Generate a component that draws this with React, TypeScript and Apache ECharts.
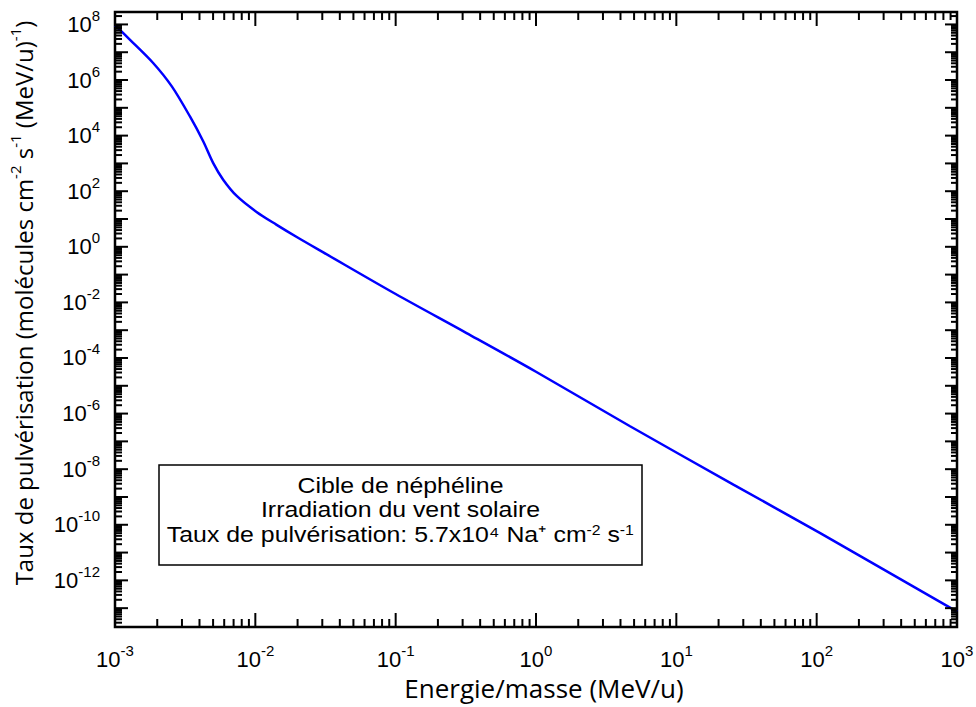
import React, { useEffect, useRef } from "react";
import * as echarts from "echarts";

// ---- data ----
const energy = [1e-3, 1.28e-3, 1.87e-3, 2.54e-3, 3.42e-3, 4.25e-3, 5.0e-3, 5.9e-3, 7.4e-3, 1.02e-2, 1.41e-2, 2.0e-2, 3.05e-2, 0.1, 0.32, 1, 4.68, 25.5, 106, 1000];
const rate = [9.5e7, 2.8e7, 4.1e6, 5.9e5, 4.9e4, 6.3e3, 1.05e3, 2.6e2, 66, 18, 6.3, 2.16, 0.63, 2.0e-2, 7.9e-4, 3.2e-5, 3.5e-7, 2.8e-9, 5.0e-11, 7.5e-14];

const xLabelExponents = [-3, -2, -1, 0, 1, 2, 3];
const yLabelExponents = [-12, -10, -8, -6, -4, -2, 0, 2, 4, 6, 8];
const xTitle = "Energie/masse (MeV/u)";
const yTitle = "Taux de pulvérisation (molécules cm{s|-2} s{s|-1} (MeV/u){s|-1})";
const boxLines = [
  "Cible de néphéline",
  "Irradiation du vent solaire",
  "Taux de pulvérisation: 5.7x10⁴ Na⁺ cm{s|-2} s{s|-1}",
];

const X_MIN = 1e-3;
const X_MAX = 1e3;
const Y_MIN = 2.1e-14;
const Y_MAX = 2.8e8;
const MULTS = [1, 2, 3, 4, 5, 6, 7, 8, 9];

const LABEL_FONT = "'Liberation Sans', Arial, sans-serif";
const TITLE_FONT = "'Open Sans', 'Noto Sans', sans-serif";

function decadeTicks(min: number, max: number) {
  const out: number[][] = [];
  const e0 = Math.floor(Math.log10(min));
  const e1 = Math.ceil(Math.log10(max));
  for (let e = e0; e <= e1; e++) {
    for (const m of MULTS) {
      const v = m * Math.pow(10, e);
      if (v >= min * 0.9999 && v <= max * 1.0001) out.push([v, m === 1 ? 1 : 0, e]);
    }
  }
  return out;
}

function expOf(v: number) {
  const l = Math.log10(v);
  const e = Math.round(l);
  return Math.abs(l - e) < 1e-6 ? e : null;
}

export default function App() {
  const ref = useRef<HTMLDivElement>(null);
  useEffect(() => {
    if (!ref.current) return;
    const chart = echarts.init(ref.current, undefined, { renderer: "svg" });

    const xTicks = decadeTicks(X_MIN, X_MAX);
    const yTicks = decadeTicks(Y_MIN, Y_MAX);

    const tickStyle = { stroke: "#000", lineWidth: 2 };

    const option: any = {
      animation: false,
      grid: {
        left: 115, top: 12, width: 842, height: 615,
        show: true, borderColor: "#000", borderWidth: 2.5,
        backgroundColor: "rgba(0,0,0,0)",
        containLabel: false, outerBoundsMode: "none",
      },
      xAxis: {
        type: "log", logBase: 10, min: X_MIN, max: X_MAX,
        axisLine: { show: false }, axisTick: { show: false },
        splitLine: { show: false }, minorTick: { show: false },
        axisLabel: {
          margin: 16,
          formatter: (v: number) => {
            const e = expOf(v);
            if (e === null || !xLabelExponents.includes(e)) return "";
            return `{b|10}{e|${e}}`;
          },
          rich: {
            b: { fontSize: 22, fontFamily: LABEL_FONT, color: "#000", lineHeight: 33 },
            e: { fontSize: 15, fontFamily: LABEL_FONT, color: "#000", lineHeight: 15, verticalAlign: "top" },
          },
        },
        name: xTitle, nameLocation: "middle", nameGap: 48,
        nameTextStyle: { fontFamily: TITLE_FONT, fontSize: 26, color: "#000", padding: [0, 0, 0, 16] },
      },
      yAxis: {
        type: "log", logBase: 10, min: Y_MIN, max: Y_MAX,
        axisLine: { show: false }, axisTick: { show: false },
        splitLine: { show: false }, minorTick: { show: false },
        axisLabel: { show: false },
        name: yTitle, nameLocation: "middle", nameGap: 76, nameRotate: 90,
        nameTextStyle: {
          fontFamily: TITLE_FONT, fontSize: 24, color: "#000", lineHeight: 32,
          padding: [0, 0, 0, 33],
          rich: { s: { fontFamily: TITLE_FONT, fontSize: 15, lineHeight: 15, verticalAlign: "top", color: "#000" } },
        },
      },
      series: [
        {
          type: "line",
          data: energy.map((e, i) => [e, rate[i]]),
          showSymbol: false,
          smooth: 0.3,
          lineStyle: { color: "#0000ff", width: 2.5 },
          z: 3,
        },
        {
          type: "custom",
          data: xTicks,
          z: 4,
          renderItem: (params: any, api: any) => {
            const v = api.value(0);
            const major = api.value(1) === 1;
            const cs = params.coordSys;
            const p = api.coord([v, 1]);
            const len = major ? 14 : 8;
            const bottom = cs.y + cs.height;
            return {
              type: "group",
              children: [
                { type: "line", shape: { x1: p[0], y1: bottom, x2: p[0], y2: bottom - len }, style: tickStyle },
                { type: "line", shape: { x1: p[0], y1: cs.y, x2: p[0], y2: cs.y + len }, style: tickStyle },
              ],
            };
          },
        },
        {
          type: "custom",
          data: yTicks.map((t) => [1, t[0], t[1], t[2]]),
          z: 4,
          renderItem: (params: any, api: any) => {
            const v = api.value(1);
            const major = api.value(2) === 1;
            const e = api.value(3);
            const cs = params.coordSys;
            const p = api.coord([1, v]);
            const lenL = major ? 13 : 7;
            const lenR = major ? 12 : 6;
            const right = cs.x + cs.width;
            const children: any[] = [
              { type: "line", shape: { x1: cs.x, y1: p[1], x2: cs.x + lenL, y2: p[1] }, style: tickStyle },
              { type: "line", shape: { x1: right, y1: p[1], x2: right - lenR, y2: p[1] }, style: tickStyle },
            ];
            if (major && yLabelExponents.includes(e)) {
              children.push({
                type: "text",
                x: cs.x - 15,
                y: p[1],
                style: {
                  text: `{b|10}{e|${e}}`,
                  align: "right",
                  verticalAlign: "middle",
                  rich: {
                    b: { fontSize: 22, fontFamily: LABEL_FONT, fill: "#000", lineHeight: 33 },
                    e: { fontSize: 15, fontFamily: LABEL_FONT, fill: "#000", lineHeight: 15, verticalAlign: "top" },
                  },
                },
              });
            }
            return { type: "group", children };
          },
        },
      ],
      graphic: [
        {
          type: "rect",
          shape: { x: 159, y: 465, width: 483, height: 100 },
          style: { fill: "#fff", stroke: "#000", lineWidth: 1.5 },
          z: 10,
        },
        {
          type: "text",
          x: 400.5,
          y: 510,
          scaleX: 1.13,
          z: 11,
          style: {
            text: boxLines.join("\n"),
            fontSize: 22,
            lineHeight: 25,
            fontFamily: LABEL_FONT,
            fill: "#000",
            align: "center",
            verticalAlign: "middle",
            rich: { s: { fontSize: 14, fontFamily: LABEL_FONT, fill: "#000", lineHeight: 14, verticalAlign: "top" } },
          },
        },
      ],
    };
    chart.setOption(option);
    return () => chart.dispose();
  }, []);
  return <div ref={ref} style={{ position: "fixed", left: 0, top: 0, width: 976, height: 707, background: "#fff" }} />;
}
